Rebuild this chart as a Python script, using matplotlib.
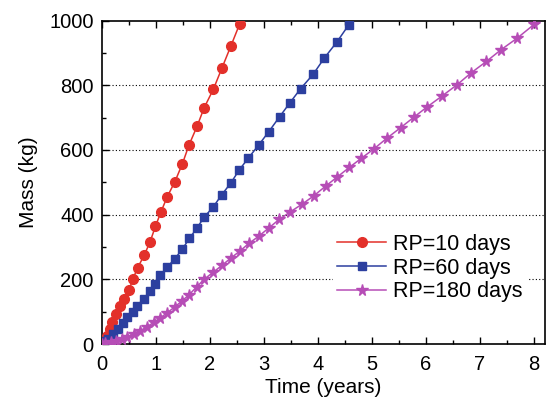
import numpy as np
import matplotlib
matplotlib.use('Agg')
import matplotlib.pyplot as plt
from matplotlib.ticker import MultipleLocator

plt.rcParams['font.family'] = ['Liberation Sans', 'DejaVu Sans']

# RP = 10 days
t10 = [0, 0.04, 0.09, 0.14, 0.19, 0.25, 0.33, 0.41, 0.50, 0.57, 0.66, 0.78, 0.89,
       0.99, 1.09, 1.21, 1.35, 1.49, 1.61, 1.76, 1.89, 2.06, 2.22, 2.39, 2.55]
m10 = [0, 10, 25, 45, 68, 92, 118, 138, 167, 200, 236, 274, 316,
       364, 408, 456, 502, 558, 615, 673, 730, 787, 853, 923, 990]

# RP = 60 days
t60 = [0, 0.06, 0.12, 0.21, 0.30, 0.39, 0.47, 0.57, 0.65, 0.77, 0.89, 0.99, 1.08,
       1.21, 1.35, 1.49, 1.62, 1.76, 1.89, 2.06, 2.22, 2.39, 2.54, 2.71, 2.90,
       3.09, 3.29, 3.48, 3.68, 3.91, 4.12, 4.35, 4.57]
m60 = [0, 8, 17, 31, 46, 65, 82, 99, 118, 140, 164, 185, 212,
       238, 264, 294, 327, 359, 392, 424, 462, 499, 538, 575, 615,
       657, 703, 746, 790, 834, 885, 934, 987]

# RP = 180 days
t180 = [0, 0.06, 0.16, 0.26, 0.37, 0.47, 0.59, 0.71, 0.83, 0.96, 1.08, 1.21, 1.35,
        1.48, 1.61, 1.75, 1.89, 2.06, 2.22, 2.38, 2.55, 2.72, 2.90, 3.09, 3.28,
        3.49, 3.71, 3.92, 4.14, 4.36, 4.58, 4.80, 5.04, 5.28, 5.53, 5.78, 6.02,
        6.29, 6.57, 6.84, 7.12, 7.39, 7.69, 8.00]
m180 = [0, 2, 5, 10, 15, 22, 31, 41, 53, 67, 81, 97, 115,
        133, 152, 176, 200, 222, 243, 265, 287, 311, 333, 359, 385,
        409, 433, 458, 488, 517, 546, 574, 604, 637, 669, 702, 733,
        766, 801, 839, 874, 910, 946, 988]

fig = plt.figure(figsize=(5.47, 4.04), dpi=100)
ax = fig.add_axes([0.1865, 0.1485, 0.8095, 0.8005])

for y in [200, 400, 600, 800]:
    ax.axhline(y, color='black', linestyle=(0, (1, 2)), linewidth=0.8, zorder=1)

ax.plot(t10, m10, '-o', color='#e3302a', markersize=7, linewidth=1.1,
        label='RP=10 days', zorder=3)
ax.plot(t60, m60, '-s', color='#2c3f9f', markersize=6, linewidth=1.1,
        label='RP=60 days', zorder=3)
ax.plot(t180, m180, '-*', color='#b64db6', markersize=8.5, linewidth=1.1,
        label='RP=180 days', zorder=3)

ax.set_xlim(0, 8.2)
ax.set_ylim(0, 1000)
ax.xaxis.set_major_locator(MultipleLocator(1))
ax.xaxis.set_minor_locator(MultipleLocator(0.5))
ax.yaxis.set_major_locator(MultipleLocator(200))
ax.yaxis.set_minor_locator(MultipleLocator(100))
ax.tick_params(which='both', direction='in', top=True, right=False, labelsize=14.5)
ax.tick_params(which='major', length=5, width=1)
ax.tick_params(which='minor', length=3, width=1)
ax.tick_params(axis='x', which='major', pad=8)
ax.tick_params(axis='y', which='major', pad=6)
for s in ax.spines.values():
    s.set_linewidth(1.2)

ax.set_xlabel('Time (years)', fontsize=15, labelpad=3)
ax.set_ylabel('Mass (kg)', fontsize=15, labelpad=8)

leg = ax.legend(loc='center', bbox_to_anchor=(0.74, 0.235), frameon=True,
                fontsize=15.5, handlelength=2.3, labelspacing=0.12,
                borderpad=0.2, handletextpad=0.3)
leg.get_frame().set_edgecolor('none')
leg.get_frame().set_facecolor('white')
leg.get_frame().set_alpha(1)
leg.set_zorder(5)

fig.savefig('out.png', dpi=100)
